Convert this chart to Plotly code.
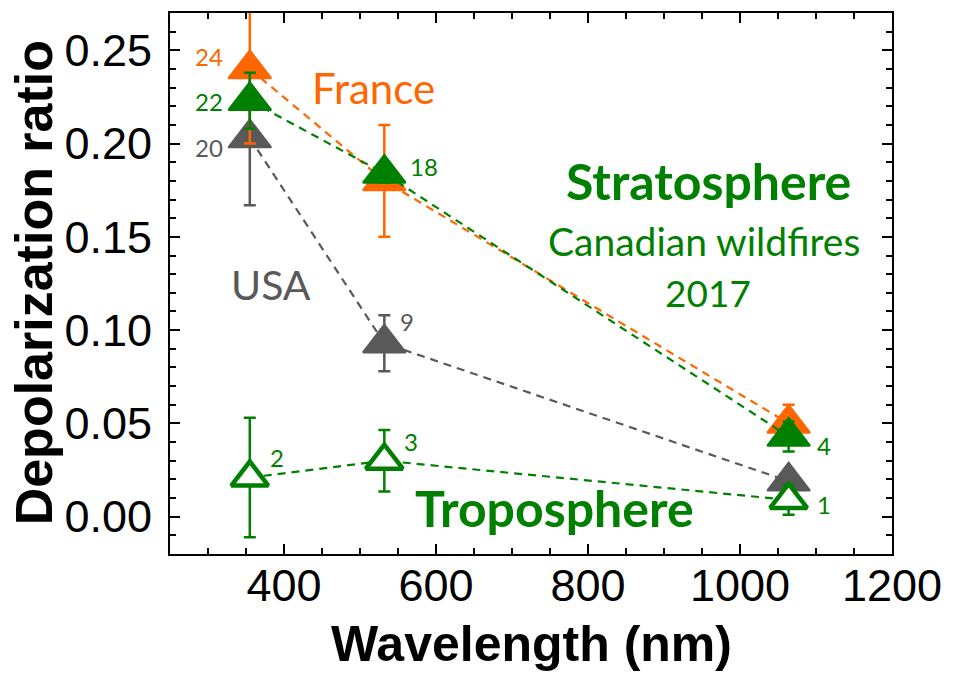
import plotly.graph_objects as go

# Lidar wavelengths (nm)
wavelength = [355, 532, 1064]

# Stratospheric smoke, USA
usa_strat = [0.203, 0.093, 0.019]
usa_strat_err = [0.036, 0.015, 0.005]
usa_counts = ["20", "9", None]

# Stratospheric smoke, France
france_strat = [0.240, 0.180, 0.050]
france_strat_err = [0.040, 0.030, 0.010]
france_counts = ["24", None, None]

# Stratospheric smoke, Canadian wildfires 2017
canada_strat = [0.223, 0.184, 0.043]
canada_strat_err = [0.015, 0.005, 0.008]
canada_counts = ["22", "18", "4"]

# Tropospheric smoke
tropo = [0.021, 0.030, 0.009]
tropo_err = [0.032, 0.0165, 0.008]
tropo_counts = ["2", "3", "1"]

ORANGE = "#FF6600"
GREEN = "#008000"
GRAY = "#595959"
TXT = "Lato"
DASH = "8px,6px"

fig = go.Figure()


def add_series(y, err, color, fill, lw_marker, size):
    fig.add_trace(go.Scatter(
        x=wavelength, y=y, mode="lines+markers",
        line=dict(color=color, width=2.2, dash=DASH),
        marker=dict(symbol="triangle-up", size=size, color=fill,
                    line=dict(color=color, width=lw_marker)),
        error_y=dict(type="data", array=err, color=color,
                     thickness=2.5, width=6),
        showlegend=False, cliponaxis=True,
    ))


add_series(usa_strat, usa_strat_err, GRAY, GRAY, 2, 37)
add_series(france_strat, france_strat_err, ORANGE, ORANGE, 2, 37)
add_series(canada_strat, canada_strat_err, GREEN, GREEN, 2, 37)
add_series(tropo, tropo_err, GREEN, "white", 4.5, 32)

annotations = []


def count_labels(y, counts, color, shifts):
    for xv, yv, c, (dx, dy) in zip(wavelength, y, counts, shifts):
        if c is None:
            continue
        annotations.append(dict(
            x=xv, y=yv, xref="x", yref="y", text=c, showarrow=False,
            xshift=dx, yshift=dy, font=dict(family=TXT, size=24, color=color),
        ))


count_labels(france_strat, france_counts, ORANGE, [(-41, 12), (0, 0), (0, 0)])
count_labels(canada_strat, canada_counts, GREEN, [(-41, -1), (40, 7), (35, -9)])
count_labels(usa_strat, usa_counts, GRAY, [(-41, -10), (23, 22), (0, 0)])
count_labels(tropo, tropo_counts, GREEN, [(27, 20), (27, 19), (35, -5)])


def paper_text(text, xp, yp, size, color, bold=False, family=TXT, angle=0):
    annotations.append(dict(
        x=xp, y=yp, xref="paper", yref="paper", text=f"<b>{text}</b>" if bold else text,
        showarrow=False, xanchor="center", yanchor="middle", textangle=angle,
        font=dict(family=family, size=size, color=color),
    ))


paper_text("France", 0.2812, 0.862, 42, ORANGE)
paper_text("USA", 0.1399, 0.4990, 41, GRAY)
paper_text("Stratosphere", 0.7460, 0.6900, 50, GREEN, bold=True)
paper_text("Canadian wildfires", 0.7400, 0.5790, 39, GREEN)
paper_text("2017", 0.7450, 0.4830, 37, GREEN)
paper_text("Troposphere", 0.5329, 0.085, 50, GREEN, bold=True)
paper_text("Wavelength (nm)", 0.5007, -0.1660, 50, "black", bold=True,
           family="Liberation Sans")
paper_text("Depolarization ratio", -0.1886, 0.5018, 52, "black", bold=True,
           family="Liberation Sans", angle=-90)

axis_common = dict(
    showline=True, linecolor="black", linewidth=2, mirror="ticks",
    ticks="inside", ticklen=10, tickwidth=2, tickcolor="black",
    showgrid=False, zeroline=False,
    tickfont=dict(family="Liberation Sans", size=45, color="black"),
)

fig.update_xaxes(range=[250, 1200], tick0=0, dtick=200,
                 minor=dict(ticks="inside", ticklen=6, tickwidth=2,
                            tickcolor="black", dtick=50, tick0=0),
                 ticklabelstandoff=-9, **axis_common)
fig.update_yaxes(range=[-0.02, 0.27], tick0=0, dtick=0.05, tickformat=".2f",
                 minor=dict(ticks="inside", ticklen=6, tickwidth=2,
                            tickcolor="black", dtick=0.01, tick0=0),
                 ticklabelstandoff=7, **axis_common)

fig.update_layout(
    width=953, height=676,
    margin=dict(l=170, r=54, t=11, b=122),
    plot_bgcolor="white", paper_bgcolor="white",
    annotations=annotations,
)

fig.write_html("out.html")
